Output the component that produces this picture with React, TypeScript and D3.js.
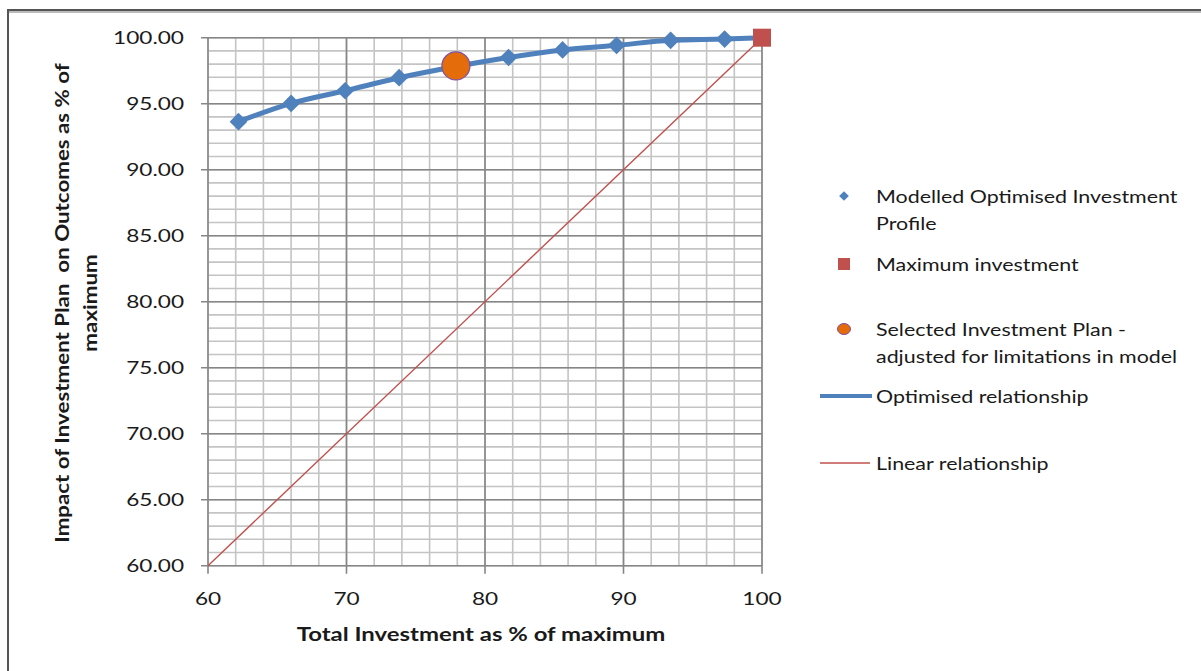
import React from "react";
import * as d3 from "d3";

// Modelled optimised investment profile (x: total investment %, y: outcome impact %)
const profileX = [62.2, 66.0, 69.9, 73.8, 77.8, 81.7, 85.6, 89.5, 93.4, 97.3];
const profileY = [93.64, 95.02, 95.98, 96.97, 97.8, 98.5, 99.07, 99.42, 99.8, 99.9];

// Maximum investment point
const maxX = [100];
const maxY = [100];

// Selected investment plan
const selectedX = [77.9];
const selectedY = [97.86];

// Linear relationship end points
const linearX = [60, 100];
const linearY = [60, 100];

const xTicks = [60, 70, 80, 90, 100];
const yTicks = [60, 65, 70, 75, 80, 85, 90, 95, 100];

const legendItems = [
  { kind: "diamond", lines: ["Modelled Optimised Investment", "Profile"] },
  { kind: "square", lines: ["Maximum investment"] },
  { kind: "circle", lines: ["Selected Investment Plan -", "adjusted for limitations in model"] },
  { kind: "thick", lines: ["Optimised relationship"] },
  { kind: "thin", lines: ["Linear relationship"] },
];

const BLUE = "#4F81BD";
const RED = "#C0504D";
const ORANGE = "#E46C0A";
const FONT = "Lato, 'Open Sans', sans-serif";

// Text widened horizontally (wide-set label style)
function WideText(props: {
  x: number;
  y: number;
  sx: number;
  size: number;
  anchor?: "start" | "middle" | "end";
  bold?: boolean;
  rotate?: number;
  children: React.ReactNode;
}) {
  const { x, y, sx, size, anchor = "start", bold = false, rotate = 0, children } = props;
  return (
    <text
      transform={`translate(${x},${y}) rotate(${rotate}) scale(${sx},1)`}
      textAnchor={anchor}
      dominantBaseline="central"
      fontFamily={FONT}
      fontSize={size}
      fontWeight={bold ? "bold" : "normal"}
      fill="#1a1a1a"
      style={{ whiteSpace: "pre" }}
    >
      {children}
    </text>
  );
}

export default function App() {
  const W = 1201;
  const H = 671;
  const left = 208;
  const right = 762;
  const top = 37.7;
  const bottom = 565.7;

  const x = d3.scaleLinear().domain([60, 100]).range([left, right]);
  const y = d3.scaleLinear().domain([60, 100]).range([bottom, top]);

  const minorX = d3.range(60, 100.01, 2);
  const minorY = d3.range(60, 100.01, 1);

  const profilePts: [number, number][] = profileX.map((v, i) => [v, profileY[i]]);
  const optimisedPts: [number, number][] = [...profilePts, [maxX[0], maxY[0]]];

  const line = d3
    .line<[number, number]>()
    .x((d) => x(d[0]))
    .y((d) => y(d[1]))
    .curve(d3.curveMonotoneX);

  const straight = d3
    .line<[number, number]>()
    .x((d) => x(d[0]))
    .y((d) => y(d[1]));

  const diamond = d3.symbol(d3.symbolDiamond2, 200)() as string;

  const legendYs = [196, 264, 329, 396, 463];

  return (
    <svg
      width={W}
      height={H}
      style={{ position: "absolute", left: 0, top: 0, background: "#fff" }}
    >
      {/* outer frame */}
      <rect x={8} y={10} width={1200} height={680} fill="#fff" stroke="#555" strokeWidth={2} />
      <line x1={9} x2={1201} y1={12} y2={12} stroke="#bbb" strokeWidth={2} />

      {/* minor grid */}
      <g stroke="#c4c4c4" strokeWidth={1.6}>
        {minorX.map((v) => (
          <line key={"mx" + v} x1={x(v)} x2={x(v)} y1={top} y2={bottom} />
        ))}
        {minorY.map((v) => (
          <line key={"my" + v} x1={left} x2={right} y1={y(v)} y2={y(v)} />
        ))}
      </g>

      {/* major grid */}
      <g stroke="#868686" strokeWidth={1.6}>
        {xTicks.map((v) => (
          <line key={"Mx" + v} x1={x(v)} x2={x(v)} y1={top} y2={bottom + 8} />
        ))}
        {yTicks.map((v) => (
          <line key={"My" + v} x1={left - 7} x2={right} y1={y(v)} y2={y(v)} />
        ))}
      </g>

      {/* tick labels */}
      {yTicks.map((v) => (
        <WideText key={"yl" + v} x={184} y={y(v)} sx={1.33} size={17} anchor="end">
          {v.toFixed(2)}
        </WideText>
      ))}
      {xTicks.map((v) => (
        <WideText key={"xl" + v} x={x(v)} y={598} sx={1.33} size={17} anchor="middle">
          {v}
        </WideText>
      ))}

      {/* axis titles */}
      <WideText x={481} y={634} sx={1.33} size={18} anchor="middle" bold>
        Total Investment as % of maximum
      </WideText>
      <WideText x={62} y={303} sx={1.24} size={18} anchor="middle" bold rotate={-90}>
        {"Impact of Investment Plan  on Outcomes as % of"}
      </WideText>
      <WideText x={90} y={303} sx={1.24} size={18} anchor="middle" bold rotate={-90}>
        maximum
      </WideText>

      {/* linear relationship */}
      <path
        d={straight(linearX.map((v, i) => [v, linearY[i]]) as [number, number][]) as string}
        fill="none"
        stroke={RED}
        strokeWidth={1.4}
      />

      {/* optimised relationship */}
      <path d={line(optimisedPts) as string} fill="none" stroke={BLUE} strokeWidth={5} />

      {/* modelled profile points */}
      {profilePts.map((d, i) => (
        <path
          key={"d" + i}
          d={diamond}
          transform={`translate(${x(d[0])},${y(d[1])})`}
          fill={BLUE}
        />
      ))}

      {/* maximum investment */}
      {maxX.map((v, i) => (
        <rect
          key={"sq" + i}
          x={x(v) - 9}
          y={y(maxY[i]) - 9}
          width={18}
          height={18}
          fill={RED}
        />
      ))}

      {/* selected plan */}
      {selectedX.map((v, i) => (
        <circle
          key={"c" + i}
          cx={x(v)}
          cy={y(selectedY[i])}
          r={14}
          fill={ORANGE}
          stroke="#7f4fa0"
          strokeWidth={1.2}
        />
      ))}

      {/* legend */}
      {legendItems.map((it, i) => {
        const ly = legendYs[i];
        let marker: React.ReactNode = null;
        if (it.kind === "diamond") {
          marker = (
            <path d={d3.symbol(d3.symbolDiamond2, 60)() as string} transform={`translate(844,${ly})`} fill={BLUE} />
          );
        } else if (it.kind === "square") {
          marker = <rect x={838} y={ly - 6} width={12} height={12} fill={RED} />;
        } else if (it.kind === "circle") {
          marker = <ellipse cx={844} cy={ly} rx={6.5} ry={5.5} fill={ORANGE} stroke="#7f4fa0" strokeWidth={1} />;
        } else if (it.kind === "thick") {
          marker = <line x1={820} x2={872} y1={ly} y2={ly} stroke={BLUE} strokeWidth={4} />;
        } else {
          marker = <line x1={820} x2={870} y1={ly} y2={ly} stroke={RED} strokeWidth={1.5} />;
        }
        return (
          <g key={"lg" + i}>
            {marker}
            {it.lines.map((t, j) => (
              <WideText key={j} x={876} y={ly + j * 27} sx={1.19} size={18}>
                {t}
              </WideText>
            ))}
          </g>
        );
      })}
    </svg>
  );
}
